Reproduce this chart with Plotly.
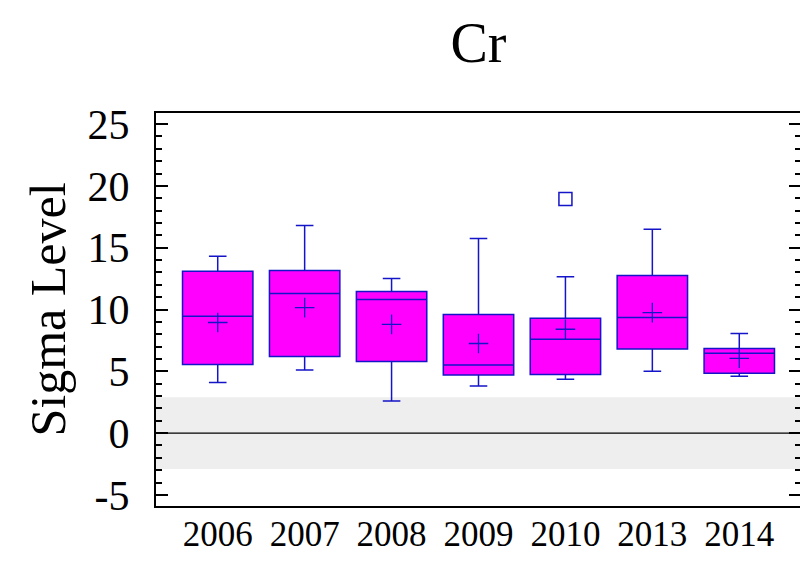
import plotly.graph_objects as go

years = ["2006", "2007", "2008", "2009", "2010", "2013", "2014"]
whisker_low = [4.1, 5.1, 2.6, 3.8, 4.35, 5.0, 4.6]
q1 = [5.55, 6.2, 5.8, 4.7, 4.75, 6.8, 4.85]
median = [9.45, 11.3, 10.8, 5.5, 7.6, 9.35, 6.45]
q3 = [13.1, 13.15, 11.45, 9.6, 9.3, 12.75, 6.85]
whisker_high = [14.3, 16.8, 12.5, 15.75, 12.65, 16.5, 8.05]
means = [8.95, 10.15, 8.8, 7.25, 8.4, 9.75, 6.05]
outlier_years = ["2010"]
outlier_values = [18.95]
band_limits = [-2.9, 2.9]
center_value = [0]
ytick_vals = [-5, 0, 5, 10, 15, 20, 25]
ytick_text = ["-5", "0", "5", "10", "15", "20", "25"]

BLUE = "#1414C8"
FONT = "Liberation Serif"

fig = go.Figure()
fig.add_trace(go.Box(
    x=years, q1=q1, median=median, q3=q3,
    lowerfence=whisker_low, upperfence=whisker_high,
    fillcolor="#FF00FF", line=dict(color=BLUE, width=1.5),
    whiskerwidth=0.25, boxpoints=False, showlegend=False,
))
fig.add_trace(go.Scatter(
    x=years, y=means, mode="markers",
    marker=dict(symbol="cross-thin-open", size=14, color=BLUE,
                line=dict(color=BLUE, width=1.3)),
    showlegend=False,
))
fig.add_trace(go.Scatter(
    x=outlier_years, y=outlier_values, mode="markers",
    marker=dict(symbol="square-open", size=13, color=BLUE,
                line=dict(color=BLUE, width=1.5)),
    showlegend=False,
))

fig.add_shape(type="rect", xref="paper", yref="y", x0=0, x1=1,
              y0=band_limits[0], y1=band_limits[1],
              fillcolor="#EEEEEE", line=dict(width=0), layer="below")
fig.add_shape(type="line", xref="paper", yref="y", x0=0, x1=1,
              y0=center_value[0], y1=center_value[0],
              line=dict(color="black", width=1.3), layer="below")

fig.update_layout(
    width=800, height=576,
    margin=dict(l=148, r=5, t=105, b=78),
    paper_bgcolor="white", plot_bgcolor="white",
    boxgap=0.19, boxgroupgap=0,
    font=dict(family=FONT, color="black"),
    title=dict(text="Cr", x=0.5, xref="paper", xanchor="center",
               y=0.94, yanchor="middle",
               font=dict(family=FONT, size=56, color="black")),
)
fig.update_xaxes(
    type="category", range=[-0.71, 6.71],
    showline=True, linecolor="black", linewidth=2, mirror=True,
    ticks="", showgrid=False, zeroline=False,
    tickfont=dict(family=FONT, size=35, color="black"),
    ticklabelstandoff=-4,
)
fig.update_yaxes(
    range=[-5.9, 25.9],
    tickvals=ytick_vals, ticktext=ytick_text,
    showline=True, linecolor="black", linewidth=2, mirror="ticks",
    ticks="inside", ticklen=12, tickwidth=1.5, tickcolor="black",
    minor=dict(dtick=1, ticks="inside", ticklen=6, tickwidth=1.5,
               tickcolor="black", showgrid=False),
    showgrid=False, zeroline=False,
    tickfont=dict(family=FONT, size=42, color="black"),
    ticklabelstandoff=16,
    title=dict(text="Sigma Level", font=dict(family=FONT, size=50, color="black"),
               standoff=6),
)

fig.write_html("out.html")
